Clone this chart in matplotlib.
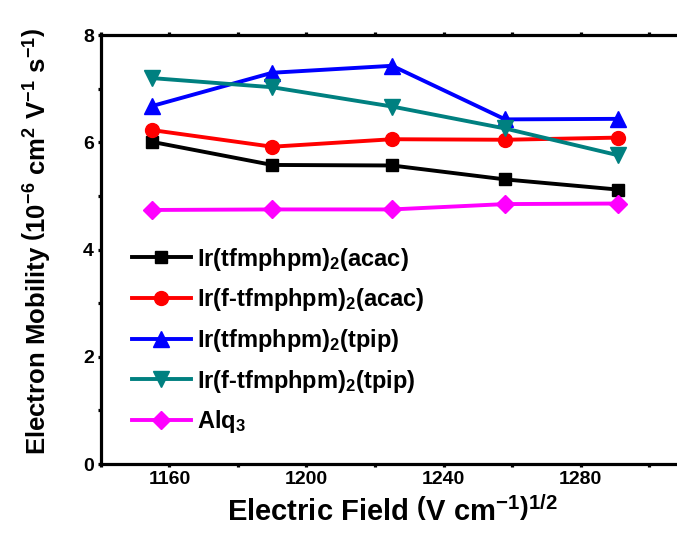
import matplotlib
matplotlib.use("Agg")
import matplotlib.pyplot as plt
from matplotlib.ticker import MultipleLocator

plt.rcParams["font.family"] = "Liberation Sans"
plt.rcParams["font.weight"] = "bold"
plt.rcParams["axes.labelweight"] = "bold"
plt.rcParams["mathtext.fontset"] = "custom"
plt.rcParams["mathtext.rm"] = "Liberation Sans:bold"
plt.rcParams["mathtext.it"] = "Liberation Sans:bold"
plt.rcParams["mathtext.bf"] = "Liberation Sans:bold"

# champ électrique (V/cm)^1/2
field = [1155, 1190, 1225, 1258, 1291]

mob_tfm_acac = [6.01, 5.58, 5.57, 5.31, 5.12]
mob_ftfm_acac = [6.23, 5.92, 6.06, 6.05, 6.09]
mob_tfm_tpip = [6.68, 7.30, 7.43, 6.43, 6.44]
mob_ftfm_tpip = [7.20, 7.03, 6.67, 6.26, 5.76]
mob_alq3 = [4.74, 4.75, 4.75, 4.85, 4.86]

labels = [
    r"Ir(tfmphpm)$_2$(acac)",
    r"Ir(f-tfmphpm)$_2$(acac)",
    r"Ir(tfmphpm)$_2$(tpip)",
    r"Ir(f-tfmphpm)$_2$(tpip)",
    r"Alq$_3$",
]

series = [mob_tfm_acac, mob_ftfm_acac, mob_tfm_tpip, mob_ftfm_tpip, mob_alq3]
colors = ["black", "red", "blue", "#008080", "magenta"]
markers = ["s", "o", "^", "v", "D"]
sizes = [9, 10, 11, 11, 9]

fig = plt.figure(figsize=(6.77, 5.38), dpi=100)
ax = fig.add_axes([0.149, 0.1375, 0.911, 0.797])

for y, c, m, s, lab in zip(series, colors, markers, sizes, labels):
    ax.plot(field, y, color=c, marker=m, markersize=s, linewidth=2.8, label=lab)

ax.set_xlim(1140, 1320)
ax.set_ylim(0, 8)
ax.xaxis.set_major_locator(MultipleLocator(40))
ax.xaxis.set_minor_locator(MultipleLocator(20))
ax.yaxis.set_major_locator(MultipleLocator(2))
ax.yaxis.set_minor_locator(MultipleLocator(1))
ax.set_xticks([1160, 1200, 1240, 1280])

for sp in ax.spines.values():
    sp.set_linewidth(2.3)
ax.spines["right"].set_visible(False)

ax.tick_params(which="major", direction="out", length=6, width=2.3, labelsize=14, pad=3)
ax.tick_params(which="minor", direction="out", length=3.5, width=2.3)
ax.tick_params(top=True, which="both", length=2)

ax.set_xlabel(r"Electric Field $\left(\mathrm{V\ cm^{-1}}\right)^{1/2}$", fontsize=21)
ax.set_ylabel(r"Electron Mobility $\left(\mathrm{10^{-6}\ cm^{2}\ V^{-1}\ s^{-1}}\right)$", fontsize=18.5)
ax.xaxis.set_label_coords(0.473, -0.075)
ax.yaxis.set_label_coords(-0.08, 0.52)

ax.legend(loc="lower left", bbox_to_anchor=(0.035, 0.045), frameon=False, fontsize=17,
          handlelength=2.5, handletextpad=0.25, labelspacing=0.58, borderaxespad=0)

fig.savefig("out.png", dpi=100)
